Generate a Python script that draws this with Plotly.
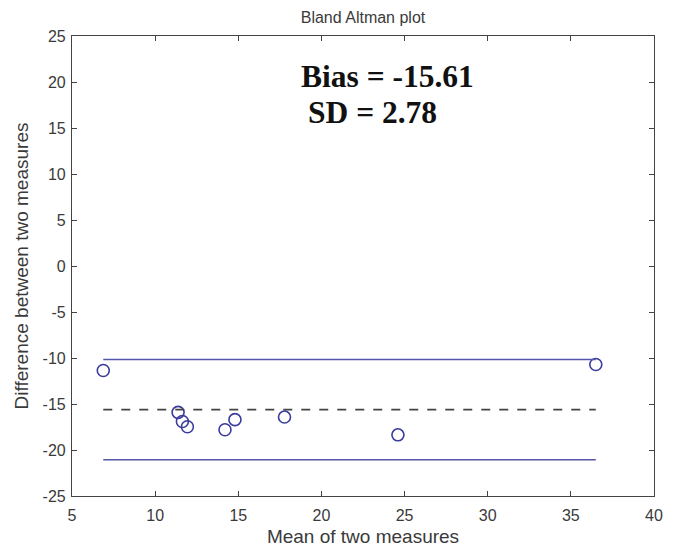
import plotly.graph_objects as go

mean_vals = [6.88, 11.38, 11.64, 11.94, 14.2, 14.8, 17.78, 24.6, 36.5]
diff_vals = [-11.36, -15.91, -16.9, -17.47, -17.8, -16.7, -16.42, -18.35, -10.71]
bias = -15.61
sd = 2.78
upper = bias + 1.96 * sd
lower = bias - 1.96 * sd
x_ticks = [5, 10, 15, 20, 25, 30, 35, 40]
y_ticks = [-25, -20, -15, -10, -5, 0, 5, 10, 15, 20, 25]
y_tick_text = [str(v) for v in y_ticks]

xmin, xmax = min(mean_vals), max(mean_vals)

fig = go.Figure()
fig.add_trace(go.Scatter(x=mean_vals, y=diff_vals, mode="markers",
                         marker=dict(symbol="circle-open", size=12, color="#3b3b9e",
                                     line=dict(width=1.6, color="#3b3b9e")),
                         showlegend=False))
fig.add_trace(go.Scatter(x=[xmin, xmax], y=[bias, bias], mode="lines",
                         line=dict(color="#444444", width=1.6, dash="dash"), showlegend=False))
fig.add_trace(go.Scatter(x=[xmin, xmax], y=[upper, upper], mode="lines",
                         line=dict(color="#5555aa", width=1.5), showlegend=False))
fig.add_trace(go.Scatter(x=[xmin, xmax], y=[lower, lower], mode="lines",
                         line=dict(color="#5555aa", width=1.5), showlegend=False))

axis_common = dict(showgrid=False, zeroline=False, showline=True, linecolor="#444444",
                   linewidth=1.2, mirror="allticks", ticks="inside", ticklen=5,
                   tickcolor="#444444", automargin=False,
                   tickfont=dict(family="Liberation Sans, Arial", size=16, color="#3a3a3a"))

fig.update_xaxes(range=[5, 40], tickvals=x_ticks, ticklabelstandoff=5, **axis_common,
                 title=dict(text="Mean of two measures", standoff=10,
                            font=dict(family="Liberation Sans, Arial", size=19, color="#3a3a3a")))
fig.update_yaxes(range=[-25, 25], tickvals=y_ticks, ticktext=y_tick_text, ticklabelstandoff=2,
                 **axis_common,
                 title=dict(text="Difference between two measures", standoff=8,
                            font=dict(family="Liberation Sans, Arial", size=19, color="#3a3a3a")))

fig.add_annotation(x=0.542, y=0.9115, xref="paper", yref="paper", text="<b>Bias = -15.61</b>",
                   showarrow=False, xanchor="center", yanchor="middle",
                   font=dict(family="Liberation Serif, Times New Roman", size=31.5, color="#111111"))
fig.add_annotation(x=0.517, y=0.833, xref="paper", yref="paper", text="<b>SD = 2.78</b>",
                   showarrow=False, xanchor="center", yanchor="middle",
                   font=dict(family="Liberation Serif, Times New Roman", size=31.5, color="#111111"))

fig.update_layout(width=666, height=539,
                  margin=dict(l=64, r=20, t=28, b=51, autoexpand=False),
                  paper_bgcolor="white", plot_bgcolor="white",
                  title=dict(text="Bland Altman plot", xref="paper", x=0.5, xanchor="center",
                             y=0.993, yanchor="top", pad=dict(t=0, b=0),
                             font=dict(family="Liberation Sans, Arial", size=16, color="#3a3a3a")))

fig.write_html("out.html")
